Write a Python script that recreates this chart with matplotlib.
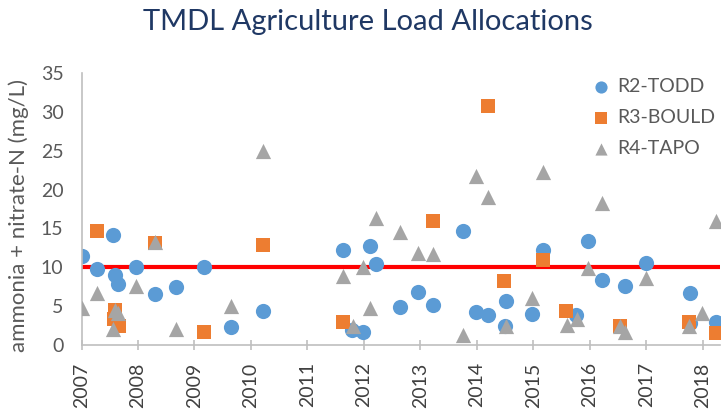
import matplotlib
matplotlib.use("Agg")
import matplotlib.pyplot as plt

plt.rcParams["font.family"] = ["Lato", "DejaVu Sans"]

# dados (ano decimal, mg/L)
todd_anos = [2007.00, 2007.28, 2007.55, 2007.59, 2007.64, 2007.96, 2008.30, 2008.68,
             2009.17, 2009.64, 2010.21, 2011.63, 2011.78, 2011.99, 2012.11, 2012.22,
             2012.64, 2012.95, 2013.23, 2013.75, 2013.98, 2014.20, 2014.51, 2014.50,
             2014.97, 2015.17, 2015.76, 2015.97, 2016.22, 2016.62, 2016.99, 2017.78,
             2017.78, 2018.23]
todd_valores = [11.4, 9.8, 14.2, 9.0, 7.8, 10.1, 6.6, 7.5,
                10.0, 2.3, 4.4, 12.2, 1.9, 1.7, 12.8, 10.4,
                4.9, 6.8, 5.1, 14.7, 4.3, 3.8, 5.7, 2.4,
                4.0, 12.2, 3.9, 13.4, 8.3, 7.6, 10.5, 6.7,
                2.8, 2.9]

bould_anos = [2007.28, 2007.59, 2007.57, 2007.67, 2008.30, 2009.17, 2010.21, 2011.63,
              2013.23, 2014.20, 2014.48, 2015.17, 2015.58, 2016.53, 2017.76, 2018.23]
bould_valores = [14.7, 4.5, 3.3, 2.5, 13.1, 1.7, 12.9, 3.0,
                 15.9, 30.7, 8.2, 11.0, 4.4, 2.5, 3.0, 1.6]

tapo_anos = [2007.00, 2007.28, 2007.55, 2007.59, 2007.64, 2007.96, 2008.30, 2008.68,
             2009.64, 2010.21, 2011.63, 2011.80, 2011.98, 2012.11, 2012.22, 2012.64,
             2012.95, 2013.23, 2013.75, 2013.98, 2014.20, 2014.51, 2014.97, 2015.17,
             2015.59, 2015.78, 2015.97, 2016.22, 2016.53, 2016.62, 2016.99, 2017.76,
             2017.99, 2018.23]
tapo_valores = [4.7, 6.7, 2.0, 4.5, 4.1, 7.6, 13.3, 2.0,
                5.0, 24.9, 8.9, 2.4, 10.0, 4.7, 16.3, 14.6,
                11.8, 11.7, 1.3, 21.8, 19.0, 2.4, 6.0, 22.3,
                2.6, 3.3, 9.9, 18.3, 2.4, 1.7, 8.6, 2.4,
                4.1, 15.9]

LIMITE = 10
anos_ticks = list(range(2007, 2019))

AZUL = "#5B9BD5"
LARANJA = "#ED7D31"
CINZA = "#A5A5A5"
TEXTO = "#595959"

fig = plt.figure(figsize=(7.22, 4.11), dpi=100)
ax = fig.add_axes([0.1129, 0.1606, 0.8841, 0.6618])

ax.axhline(LIMITE, color="#FF0000", lw=3, zorder=1)
ax.scatter(todd_anos, todd_valores, s=120, marker="o", color=AZUL, label="R2-TODD", zorder=2, linewidths=0)
ax.scatter(bould_anos, bould_valores, s=110, marker="s", color=LARANJA, label="R3-BOULD", zorder=3, linewidths=0)
ax.scatter(tapo_anos, tapo_valores, s=120, marker="^", color=CINZA, label="R4-TAPO", zorder=4, linewidths=0)

ax.set_xlim(2007, 2018.3)
ax.set_ylim(0, 35)
ax.set_xticks(anos_ticks)
ax.set_xticklabels([str(a) for a in anos_ticks], rotation=90, fontsize=14, color="#404040")
ax.set_yticks(range(0, 36, 5))
ax.tick_params(axis="y", length=0, labelsize=14, labelcolor=TEXTO, pad=13)
ax.tick_params(axis="x", direction="inout", length=7, width=1.2, color="#BFBFBF", pad=9)

for lado in ["top", "right"]:
    ax.spines[lado].set_visible(False)
for lado in ["left", "bottom"]:
    ax.spines[lado].set_color("#BFBFBF")
    ax.spines[lado].set_linewidth(1.2)

fig.text(0.026, 0.4745, "ammonia + nitrate-N (mg/L)", rotation=90, ha="center", va="center",
         fontsize=16, color=TEXTO)

fig.text(0.51, 0.946, "TMDL Agriculture Load Allocations", ha="center", va="center",
         fontsize=21, color="#1F3864")

ax.legend(loc="upper left", bbox_to_anchor=(0.819, 0.811), bbox_transform=fig.transFigure,
          frameon=False, fontsize=14, labelcolor=TEXTO, handletextpad=0.33,
          labelspacing=0.72, handlelength=1.0, markerscale=0.8,
          borderpad=0, borderaxespad=0)

fig.savefig("out.png", dpi=100)
